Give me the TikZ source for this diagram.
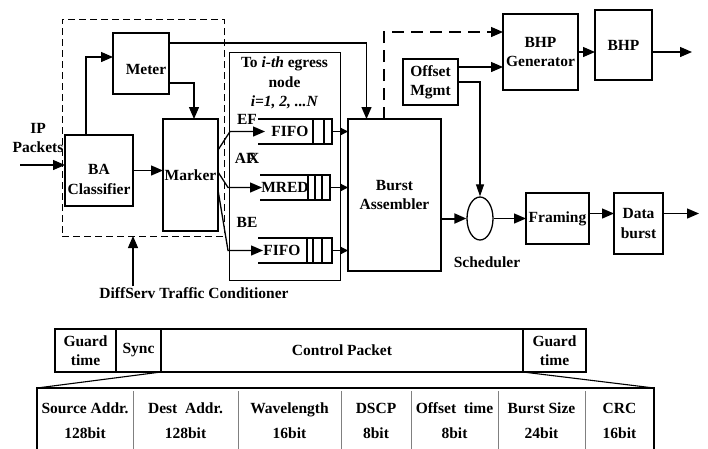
\documentclass[tikz,border=0pt]{standalone}
\usepackage{fontspec}
\setmainfont{Liberation Serif}
\usetikzlibrary{arrows.meta,positioning,shapes.geometric}

\begin{document}
\begin{tikzpicture}[x=1pt, y=-1pt,
    font=\fontsize{15.5}{19.5}\selectfont\bfseries,
    box/.style={draw, line width=1.3pt, inner sep=0pt, outer sep=0pt, align=center},
    arr/.style={line width=1.3pt, -{Triangle[length=12pt,width=10pt]}},
    small arr/.style={line width=1.3pt, -{Triangle[length=8pt,width=8pt]}},
    queue/.style={minimum width=74, minimum height=25, inner sep=0pt, outer sep=0pt},
    field/.style={minimum height=65, inner sep=0pt, outer sep=0pt, align=center,
                  font=\fontsize{15.5}{25}\selectfont\bfseries}]
    \useasboundingbox (0,0) rectangle (708,448);
    \clip (0,0) rectangle (708,448);

    % DiffServ traffic conditioner
    \node[draw, dash pattern=on 7pt off 4pt, line width=0.9pt, outer sep=0pt,
          minimum width=162, minimum height=217] (dscond) at (143,127.5) {};
    \node[box, minimum width=56, minimum height=61,
          label={[xshift=5pt, yshift=-6pt]center:Meter}] (meter) at (141,63.5) {};
    \node[box, minimum width=68, minimum height=71,
          label={[yshift=-9pt, align=center]center:BA\\Classifier}] (ba) at (99,170.5) {};
    \node[box, minimum width=55, minimum height=112] (marker) at (190.5,175) {Marker};
    \node[align=center] (ip) at (38,138) {IP\\Packets};
    \coordinate (ipin) at (20,165);
    \node[inner sep=1pt] (dslabel) at (194,293) {DiffServ Traffic Conditioner};

    % Per-egress queues
    \node[draw, line width=0.8pt, outer sep=0pt, minimum width=111, minimum height=228] (egress) at (284.5,166) {};
    \node[anchor=north, align=center, inner sep=0pt] (egtext) at ([yshift=-5]egress.north)
        {To \textit{i-th} egress\\node\\\textit{i=1, 2, ...N}};
    \node[queue, label={[xshift=-5pt]center:FIFO}] (qef) at (295,131.5) {};
    \node[queue, minimum width=70, label={[xshift=-10pt]center:MRED}] (qaf) at (295,187.5) {};
    \node[queue, label={[xshift=-13pt]center:FIFO}] (qbe) at (295,250.5) {};
    \foreach \q in {qef,qaf,qbe}
        \draw[line width=1.3pt] (\q.north west) -- (\q.north east) -- (\q.south east) -- (\q.south west);
    \foreach \q/\d in {qef/8, qef/19, qaf/8, qaf/15, qaf/22, qbe/10, qbe/19, qbe/25}
        \draw[line width=1.1pt] ([xshift=-\d]\q.north east) -- ([xshift=-\d]\q.south east);
    \node (lef) at (247,119) {EF};
    \node (laf) at (247,158) {A\rlap{F}\kern2pt X};
    \node (lbe) at (247,222) {BE};

    % Burst side
    \node[box, minimum width=93, minimum height=152] (burst) at (394.5,195) {Burst\\Assembler};
    \node[box, minimum width=55, minimum height=46] (offset) at (430.5,82) {Offset\\Mgmt};
    \node[box, minimum width=75, minimum height=76] (bhpgen) at (540.5,52) {BHP\\Generator};
    \node[box, minimum width=57, minimum height=70] (bhp) at (623.5,45) {BHP};
    \node[draw, ellipse, line width=1.3pt, inner sep=0pt, minimum width=26, minimum height=43] (sched) at (480,218.5) {};
    \node[below=13pt of sched, xshift=7pt] (schedlbl) {Scheduler};
    \node[box, minimum width=63, minimum height=51] (framing) at (557.5,218.5) {Framing};
    \node[box, minimum width=49, minimum height=61] (databurst) at (638.5,223.5) {Data\\burst};
    \coordinate (bhpout) at (692,52);
    \coordinate (dataout) at (699,213.5);

    % Connections
    \draw[arr] (ipin) -- (ipin -| ba.west);
    \draw[arr] (ba.east) -- (ba.east -| marker.west);
    \draw[arr] ([xshift=-13]ba.north) |- ([yshift=6.5]meter.west);
    \draw[arr] ([yshift=-19.5]meter.east) -| ([xshift=3.5]marker.north);
    \draw[arr] ([yshift=20.5]meter.east) -| ([xshift=-28]burst.north);
    \draw[arr] (dslabel.north -| ba.east) -- (dscond.south -| ba.east);
    \draw[arr] ([yshift=25]marker.east) -- ([xshift=-28]qef.west) -- ([xshift=7]qef.west);
    \draw[arr] ([yshift=3]marker.east) -- ([xshift=-32]qaf.west) -- ([xshift=2]qaf.west);
    \draw[arr] ([yshift=-15]marker.east) -- ([xshift=-30]qbe.west) -- ([xshift=5]qbe.west);
    \foreach \q in {qef,qaf,qbe}
        \draw[small arr] (\q.east) -- (\q.east -| burst.west);
    \draw[line width=1.3pt, dash pattern=on 12pt off 7pt, -{Triangle[length=12pt,width=10pt]}]
        ([xshift=-10.5]burst.north) |- ([yshift=20]bhpgen.west);
    \draw[arr] ([yshift=15]offset.east) -- ([yshift=15]offset.east -| bhpgen.west);
    \draw[line width=1.1pt, -{Triangle[length=12pt,width=8pt]}] (offset.east) -| (sched.north);
    \draw[arr] (bhpgen.east) -- (bhpgen.east -| bhp.west);
    \draw[arr] (bhpgen.east -| bhp.east) -- (bhpout);
    \draw[arr, line width=2pt] (burst.east |- sched.west) -- (sched.west);
    \draw[arr] (sched.east) -- (framing.west);
    \draw[arr] ([yshift=5]framing.east) -- ([yshift=5]framing.east -| databurst.west);
    \draw[arr] (databurst.east |- dataout) -- (dataout);

    % Control packet format
    \node[box, minimum width=61, minimum height=43] (guarda) at (85.5,350.5) {Guard\\time};
    \node[box, minimum width=45, minimum height=43, right=0pt of guarda] (sync) {Sync};
    \node[box, minimum width=362, minimum height=43, right=0pt of sync] (ctrl) {Control Packet};
    \node[box, minimum width=63, minimum height=43, right=0pt of ctrl] (guardb) {Guard\\time};

    \node[field, minimum width=96] (fsrc) at (85,420.5) {Source Addr.\\128bit};
    \node[field, minimum width=105, right=0pt of fsrc] (fdst) {Dest\ \ Addr.\\128bit};
    \node[field, minimum width=103, right=0pt of fdst] (fwl) {Wavelength\\16bit};
    \node[field, minimum width=70, right=0pt of fwl] (fdscp) {DSCP\\8bit};
    \node[field, minimum width=87, right=0pt of fdscp] (foff) {Offset\ \ time\\8bit};
    \node[field, minimum width=87, right=0pt of foff] (fsize) {Burst Size\\24bit};
    \node[field, minimum width=69, right=0pt of fsize] (fcrc) {CRC\\16bit};
    \draw[line width=1.3pt] (fsrc.south west) -- (fsrc.north west) -- (fcrc.north east) -- (fcrc.south east);
    \foreach \f in {fsrc,fdst,fwl,fdscp,foff,fsize}
        \draw[gray, line width=1pt] ([yshift=-3]\f.north east) -- (\f.south east);
    \draw[line width=1.1pt] (sync.south east) -- (fsrc.north west);
    \draw[line width=1.1pt] (ctrl.south east) -- (fcrc.north east);
\end{tikzpicture}
\end{document}
